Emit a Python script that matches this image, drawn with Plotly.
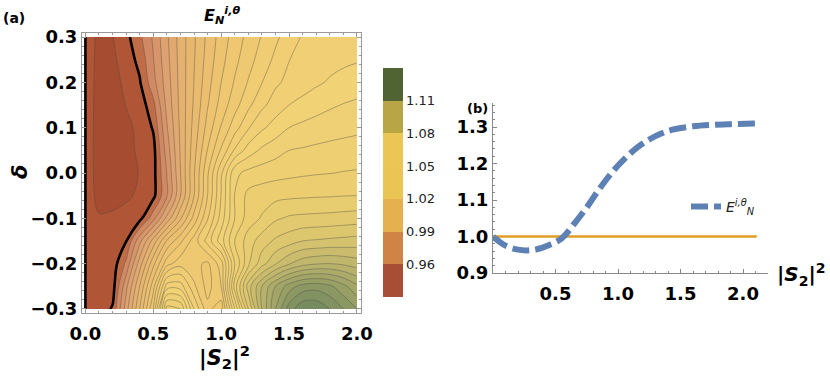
import plotly.graph_objects as go

# ---- data ---------------------------------------------------------------
# panel (a): |S2|^2 grid, delta grid and E_N (rows = delta)
s2_grid = [0, 0.1, 0.2, 0.3, 0.4, 0.5, 0.6, 0.7, 0.8, 0.9, 1.0,
           1.1, 1.2, 1.3, 1.4, 1.5, 1.6, 1.7, 1.8, 1.9, 2.0]
delta_grid = [-0.3, -0.25, -0.2, -0.15, -0.1, -0.05, 0.0, 0.05, 0.1, 0.15, 0.2, 0.25, 0.3]
E_grid = [
    [1.0, 0.998, 1.0004, 1.014, 1.028, 1.044, 1.074, 1.072, 1.056, 1.0452, 1.0416,
     1.064, 1.084, 1.1, 1.112, 1.122, 1.1272, 1.1272, 1.124, 1.12, 1.116],
    [1.0, 0.998, 0.9982, 1.0108, 1.024, 1.0384, 1.058, 1.058, 1.0488, 1.0424, 1.048,
     1.074, 1.09, 1.1, 1.108, 1.114, 1.1176, 1.1184, 1.1168, 1.1132, 1.1088],
    [1.0, 0.9976, 0.9976, 1.0048, 1.018, 1.0308, 1.0424, 1.0464, 1.0452, 1.0432, 1.05,
     1.068, 1.0792, 1.0864, 1.0916, 1.0956, 1.0984, 1.0996, 1.1, 1.0992, 1.098],
    [1.0, 0.9972, 0.9976, 0.9998, 1.0108, 1.0216, 1.0324, 1.0391, 1.0458, 1.0536, 1.0622,
     1.072, 1.078, 1.082, 1.0847, 1.0863, 1.088, 1.0884, 1.0888, 1.0892, 1.0896],
    [1.0, 0.9966, 0.9968, 0.9978, 0.9986, 1.0064, 1.0172, 1.0274, 1.0375, 1.0476, 1.0578,
     1.068, 1.074, 1.0764, 1.0794, 1.0806, 1.081, 1.0812, 1.0814, 1.0817, 1.082],
    [1.0, 0.994, 0.9944, 0.9952, 0.9968, 0.9988, 1.0076, 1.0198, 1.0319, 1.044, 1.0561,
     1.0682, 1.0732, 1.0742, 1.0748, 1.0752, 1.0754, 1.0756, 1.0757, 1.0759, 1.076],
    [1.0, 0.9932, 0.9934, 0.9944, 0.9962, 0.9986, 1.0081, 1.0199, 1.0316, 1.0434, 1.0552,
     1.067, 1.0692, 1.07, 1.0706, 1.071, 1.0714, 1.0717, 1.0719, 1.0722, 1.0724],
    [1.0, 0.993, 0.9934, 0.9946, 0.9968, 0.9986, 1.0098, 1.0204, 1.0305, 1.0402, 1.0486,
     1.0566, 1.0618, 1.0648, 1.0664, 1.068, 1.0684, 1.0688, 1.0691, 1.0694, 1.0696],
    [1.0, 0.9932, 0.9938, 0.9952, 0.9968, 1.0004, 1.0116, 1.0208, 1.0295, 1.0375, 1.0444,
     1.0502, 1.0556, 1.0593, 1.0618, 1.064, 1.065, 1.0658, 1.0664, 1.0668, 1.0672],
    [1.0, 0.9934, 0.994, 0.9961, 0.9976, 1.0028, 1.0131, 1.0212, 1.0286, 1.0357, 1.0416,
     1.0465, 1.051, 1.0551, 1.0578, 1.06, 1.0612, 1.0623, 1.0634, 1.0642, 1.0648],
    [1.0, 0.9936, 0.9944, 0.997, 0.9996, 1.0066, 1.014, 1.0214, 1.0281, 1.0345, 1.04,
     1.0444, 1.0483, 1.0519, 1.0553, 1.057, 1.0582, 1.0594, 1.0604, 1.0612, 1.0618],
    [1.0, 0.994, 0.9952, 0.9978, 1.0012, 1.0078, 1.0147, 1.0216, 1.0277, 1.0336, 1.0387,
     1.0429, 1.0465, 1.0498, 1.0529, 1.0559, 1.0574, 1.0582, 1.0588, 1.0593, 1.0597],
    [1.0, 0.9944, 0.9958, 0.9988, 1.0031, 1.0086, 1.0153, 1.0217, 1.0274, 1.033, 1.0378,
     1.0418, 1.0452, 1.0483, 1.0512, 1.0539, 1.0564, 1.0572, 1.0578, 1.0584, 1.0588],
]

# bar legend of panel (a)
band_edges = [0.93, 0.96, 0.99, 1.02, 1.05, 1.08, 1.11, 1.14]
band_colors = ["#A94E36", "#CF8446", "#E5B14E", "#EBC553", "#ECC654", "#B7A546", "#4F6432"]

# panel (b)
s2_line = [0, 0.1, 0.2, 0.27, 0.35, 0.45, 0.55, 0.65, 0.75, 0.85, 0.95, 1.05,
           1.15, 1.25, 1.35, 1.45, 1.6, 1.75, 1.9, 2.12]
E_line = [1.0, 0.975, 0.964, 0.962, 0.965, 0.977, 0.995, 1.035, 1.08, 1.13, 1.175, 1.212,
          1.243, 1.266, 1.283, 1.294, 1.302, 1.306, 1.308, 1.31]
s2_ref = [0, 2.11]
E_ref = [1.0, 1.0]

# ---- styling --------------------------------------------------------------
W, H = 830, 376
FONT = "DejaVu Sans, Liberation Sans, sans-serif"

def px(x):
    return x / W

def py(y):
    return 1 - y / H

fill_scale = [
    [0.0, "#A64C30"], [0.023, "#AC5233"], [0.052, "#BC6440"], [0.082, "#CE8660"],
    [0.14, "#DCA070"], [0.227, "#E7B66E"], [0.344, "#EEC670"], [0.49, "#F2D276"],
    [0.606, "#EBCD70"], [0.694, "#D8C46E"], [0.781, "#BCB46C"], [0.869, "#9CA266"],
    [0.956, "#7B8E60"], [1.0, "#6C865C"],
]

lo, hi = band_edges[0], band_edges[-1]
step_scale = []
for i, c in enumerate(band_colors):
    step_scale.append([(band_edges[i] - lo) / (hi - lo), c])
    step_scale.append([(band_edges[i + 1] - lo) / (hi - lo), c])

fig = go.Figure()

# filled contours with thin grey lines
fig.add_trace(go.Contour(
    x=s2_grid, y=delta_grid, z=E_grid,
    colorscale=fill_scale, zmin=0.9928, zmax=1.13, zauto=False,
    contours=dict(start=0.996, end=1.128, size=0.004, coloring="fill"),
    line=dict(color="rgba(70,70,70,0.55)", width=0.7, smoothing=1.0),
    showscale=False, showlegend=False, hoverinfo="skip", xaxis="x", yaxis="y",
))
# E = 1 contour, thick black
fig.add_trace(go.Contour(
    x=s2_grid, y=delta_grid, z=E_grid,
    contours=dict(start=1.0, end=1.0, size=0.01, coloring="none"),
    line=dict(color="black", width=2.6, smoothing=1.0),
    showscale=False, showlegend=False, hoverinfo="skip", xaxis="x", yaxis="y",
))
fig.add_trace(go.Scatter(
    x=[s2_grid[0], s2_grid[0]], y=[delta_grid[0], delta_grid[-1]],
    mode="lines", line=dict(color="black", width=2.6),
    showlegend=False, hoverinfo="skip", xaxis="x", yaxis="y",
))
# stepped colour bar
fig.add_trace(go.Scatter(
    x=[None], y=[None], mode="markers", showlegend=False, hoverinfo="skip",
    marker=dict(
        color=[lo], cmin=lo, cmax=hi, colorscale=step_scale, showscale=True,
        colorbar=dict(
            x=px(383), xanchor="left", y=py(68), yanchor="top",
            len=229 / H, lenmode="fraction", thickness=20,
            xpad=0, ypad=0, outlinewidth=0,
            tickvals=band_edges[1:-1],
            ticktext=["%.2f" % v for v in band_edges[1:-1]],
            ticks="", tickfont=dict(family=FONT, size=13, color="#222"),
        ),
    ),
    xaxis="x", yaxis="y",
))

# panel (b)
fig.add_trace(go.Scatter(
    x=s2_ref, y=E_ref, mode="lines", line=dict(color="#E19C24", width=2.5),
    showlegend=False, xaxis="x2", yaxis="y2",
))
fig.add_trace(go.Scatter(
    x=s2_line, y=E_line, mode="lines",
    line=dict(color="#5E81B5", width=6, dash="17px,6px", shape="spline"),
    name="<i>E</i><sup><i>i,θ</i></sup><sub><i>N</i></sub>", xaxis="x2", yaxis="y2",
))

tick_font = dict(family=FONT, size=18, color="black", weight="bold")
frame = dict(showline=True, linecolor="#9a9a9a", linewidth=1, mirror="allticks",
             ticks="inside", ticklen=4, tickcolor="#9a9a9a", showgrid=False, zeroline=False,
             tickfont=tick_font, automargin=False)

fig.update_layout(
    width=W, height=H, margin=dict(l=0, r=0, t=0, b=0, autoexpand=False),
    paper_bgcolor="white", plot_bgcolor="white", showlegend=True,
    xaxis=dict(domain=[px(82), px(361)], range=[-0.025, 2.03], anchor="y",
               tickvals=[0, 0.5, 1.0, 1.5, 2.0], tickformat=".1f", ticklabelstandoff=4,
               minor=dict(dtick=0.1, ticks="inside", ticklen=2, tickcolor="#9a9a9a"), **frame),
    yaxis=dict(domain=[py(313), py(33)], range=[-0.309, 0.309], anchor="x",
               tickvals=[-0.3, -0.2, -0.1, 0.0, 0.1, 0.2, 0.3], tickformat=".1f",
               minor=dict(dtick=0.02, ticks="inside", ticklen=2, tickcolor="#9a9a9a"), **frame),
    xaxis2=dict(domain=[px(493), px(768)], range=[0, 2.2], anchor="y2",
                showline=True, linecolor="#888", linewidth=1, ticks="inside", ticklen=4,
                tickcolor="#888", tickvals=[0.5, 1.0, 1.5, 2.0], tickformat=".1f",
                ticklabelstandoff=4, automargin=False,
                minor=dict(dtick=0.1, ticks="inside", ticklen=2, tickcolor="#888"),
                showgrid=False, zeroline=False, tickfont=tick_font),
    yaxis2=dict(domain=[py(273), py(103)], range=[0.9, 1.366], anchor="x2",
                showline=True, linecolor="#888", linewidth=1, ticks="inside", ticklen=4,
                tickcolor="#888", tickvals=[0.9, 1.0, 1.1, 1.2, 1.3], tickformat=".1f",
                automargin=False,
                minor=dict(dtick=0.02, ticks="inside", ticklen=2, tickcolor="#888"),
                showgrid=False, zeroline=False, tickfont=tick_font),
    legend=dict(x=px(686), y=py(207), xanchor="left", yanchor="middle",
                bgcolor="rgba(0,0,0,0)", font=dict(family=FONT, size=14, color="#222"),
                itemwidth=30),
    annotations=[
        dict(text="<b>(a)</b>", x=px(14), y=py(18), xanchor="center", yanchor="middle",
             font=dict(family=FONT, size=14, color="black")),
        dict(text="<b><i>E</i><sub><i>N</i></sub><sup><i>i,θ</i></sup></b>", x=px(222), y=py(16),
             xanchor="center", yanchor="middle", font=dict(family=FONT, size=16, color="black")),
        dict(text="<b><i>δ</i></b>", x=px(20), y=py(172), textangle=-90,
             xanchor="center", yanchor="middle", font=dict(family=FONT, size=21, color="black")),
        dict(text="<b>|<i>S</i><sub>2</sub>|<sup>2</sup></b>", x=px(224), y=py(357),
             xanchor="center", yanchor="middle", font=dict(family=FONT, size=21, color="black")),
        dict(text="<b>(b)</b>", x=px(477), y=py(108), xanchor="center", yanchor="middle",
             font=dict(family=FONT, size=13, color="black")),
        dict(text="<b>|<i>S</i><sub>2</sub>|<sup>2</sup></b>", x=px(775), y=py(274),
             xanchor="left", yanchor="middle", font=dict(family=FONT, size=20, color="black")),
    ],
)
for a in fig.layout.annotations:
    a.update(xref="paper", yref="paper", showarrow=False)

# the page's default body margin would shift the figure by 8px
fig.write_html("out.html", config={"displayModeBar": False},
               post_script="document.body.style.margin='0';")
